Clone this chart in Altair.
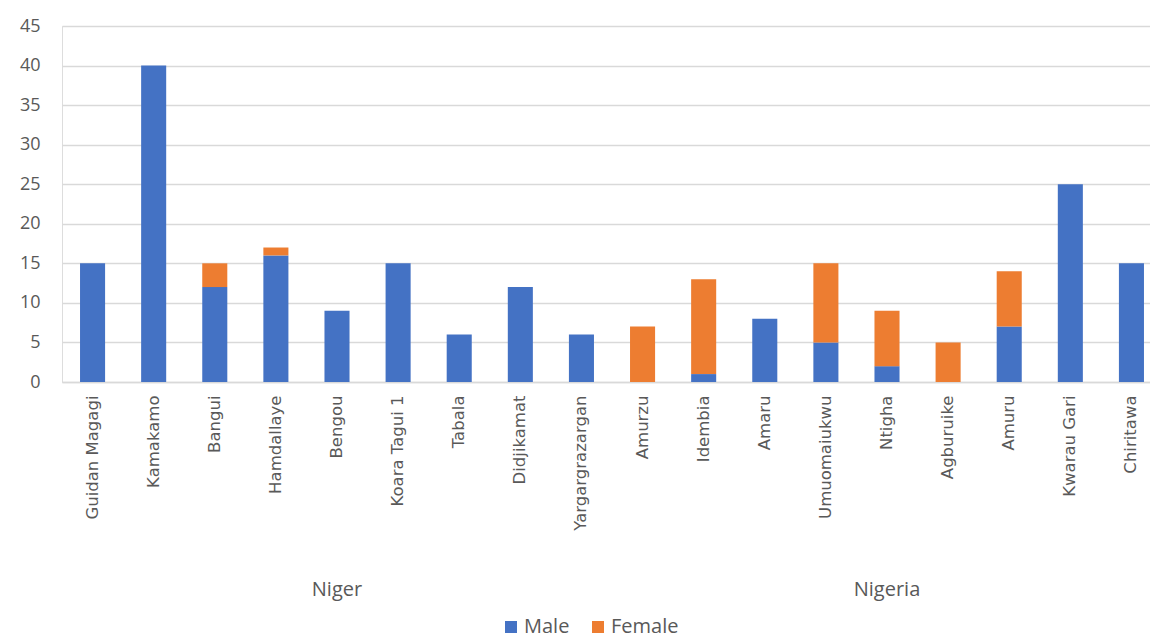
import altair as alt
import pandas as pd

# Villages in display order, grouped by country
villages = [
    "Guidan Magagi", "Kamakamo", "Bangui", "Hamdallaye", "Bengou",
    "Koara Tagui 1", "Tabala", "Didjikamat", "Yargargrazargan",
    "Amurzu", "Idembia", "Amaru", "Umuomaiukwu", "Ntigha",
    "Agburuike", "Amuru", "Kwarau Gari", "Chiritawa",
]
countries = ["Niger"] * 9 + ["Nigeria"] * 9
male = [15, 40, 12, 16, 9, 15, 6, 12, 6, 0, 1, 8, 5, 2, 0, 7, 25, 15]
female = [0, 0, 3, 1, 0, 0, 0, 0, 0, 7, 12, 0, 10, 7, 5, 7, 0, 0]

sexes = ["Male", "Female"]
sex_colors = ["#4472C4", "#ED7D31"]

rows = []
for v, c, m, f in zip(villages, countries, male, female):
    rows.append({"village": v, "country": c, "sex": "Male", "rank": 0, "count": m})
    rows.append({"village": v, "country": c, "sex": "Female", "rank": 1, "count": f})
df = pd.DataFrame(rows)

# Country labels sit under the middle village of each group
group_df = pd.DataFrame({
    "village": [villages[4], villages[13]],
    "country": ["Niger", "Nigeria"],
})

x_scale = alt.Scale(domain=villages, range=[0, 1100], paddingInner=0.59, paddingOuter=0.295)

bars = alt.Chart(df).mark_bar().encode(
    x=alt.X(
        "village:N",
        sort=villages,
        scale=x_scale,
        title=None,
        axis=alt.Axis(
            labelAngle=-90,
            labelFontSize=16.5,
            labelFont="DejaVu Sans",
            labelColor="#595959",
            labelPadding=13,
            ticks=False,
            domainColor="#d9d9d9",
            domainWidth=1.3,
            labelLimit=300,
        ),
    ),
    y=alt.Y(
        "count:Q",
        stack="zero",
        scale=alt.Scale(domain=[0, 45], nice=False),
        title=None,
        axis=alt.Axis(
            values=list(range(0, 50, 5)),
            labelFontSize=18,
            labelFont="Open Sans",
            labelColor="#595959",
            labelPadding=22,
            ticks=False,
            domain=False,
            gridColor="#d9d9d9",
            gridWidth=1.3,
        ),
    ),
    color=alt.Color(
        "sex:N",
        scale=alt.Scale(domain=sexes, range=sex_colors),
        title=None,
        legend=alt.Legend(
            orient="none",
            legendX=439,
            legendY=591,
            direction="horizontal",
            symbolType="square",
            symbolSize=144,
            symbolStrokeWidth=0,
            labelFontSize=20,
            labelFont="Open Sans",
            labelColor="#595959",
            columnPadding=18,
            labelOffset=3,
        ),
    ),
    order=alt.Order("rank:Q", sort="ascending"),
)

groups = alt.Chart(group_df).mark_text(
    fontSize=20,
    font="Open Sans",
    color="#595959",
    baseline="middle",
).encode(
    x=alt.X("village:N", sort=villages, scale=x_scale),
    y=alt.value(564),
    text="country:N",
)

chart = alt.layer(bars, groups).properties(
    width=1088,
    height=356,
    autosize=alt.AutoSizeParams(type="none"),
    padding={"left": 62, "top": 26, "right": 0, "bottom": 257},
).configure_view(stroke=None).configure(background="white")

chart.save("out.html", embed_options={"renderer": "svg", "actions": False})
